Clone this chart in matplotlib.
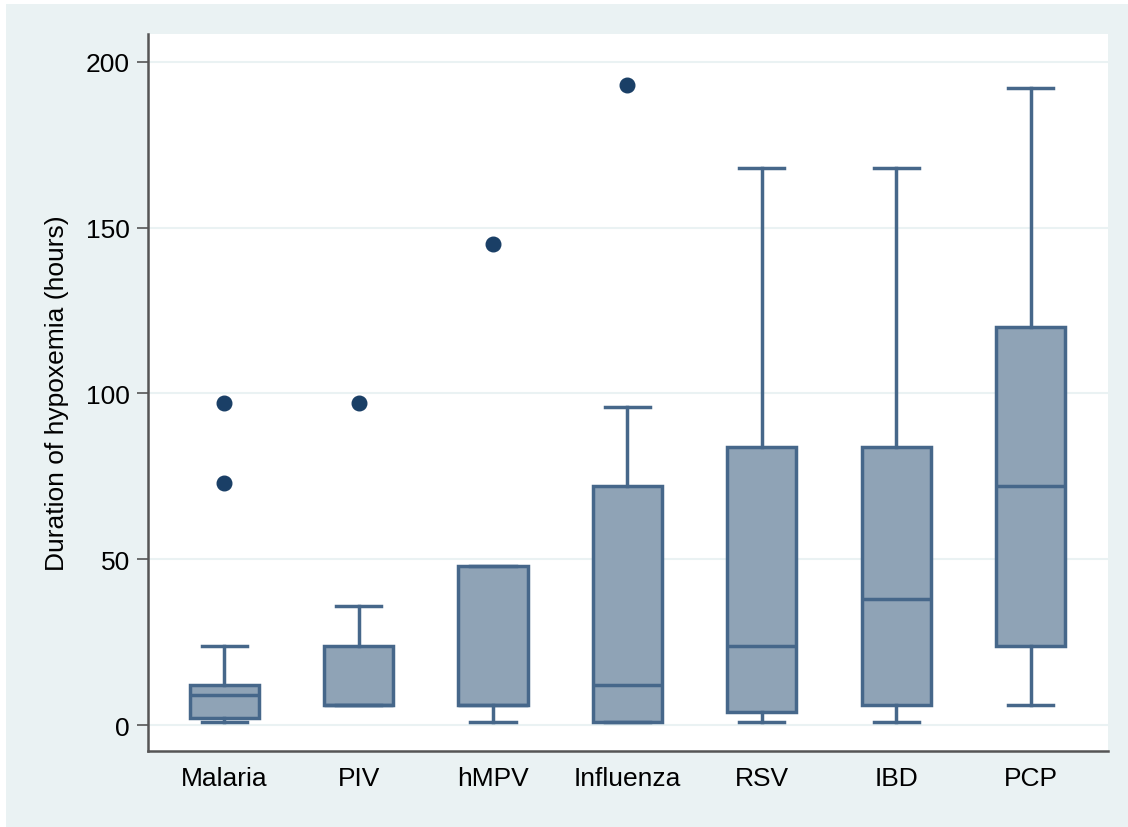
import matplotlib.pyplot as plt
from matplotlib.patches import Rectangle

plt.rcParams['font.family'] = ['Liberation Sans', 'DejaVu Sans']

# values (hours)
groups = ['Malaria', 'PIV', 'hMPV', 'Influenza', 'RSV', 'IBD', 'PCP']
whislo = [1, 6, 1, 1, 1, 1, 6]
q1 = [2, 6, 6, 1, 4, 6, 24]
med = [9, 6, 6, 12, 24, 38, 72]
q3 = [12, 24, 48, 72, 84, 84, 120]
whishi = [24, 36, 48, 96, 168, 168, 192]
fliers = [[97, 73], [97], [145], [193], [], [], []]

bg = '#eaf2f3'
edge = '#46678a'
fill = '#8fa3b6'
dot = '#1a3f66'

stats = []
for i in range(len(groups)):
    stats.append({'label': groups[i], 'whislo': whislo[i], 'q1': q1[i], 'med': med[i],
                  'q3': q3[i], 'whishi': whishi[i], 'fliers': fliers[i]})

fig = plt.figure(figsize=(11.28, 8.28), dpi=100, facecolor=bg)
# thin white margin along the top and left, as in the screenshot
fig.patches.append(Rectangle((0, 1 - 5 / 828), 1, 5 / 828, transform=fig.transFigure,
                             facecolor='white', edgecolor='none', zorder=-1))
fig.patches.append(Rectangle((0, 0), 6 / 1128, 1, transform=fig.transFigure,
                             facecolor='white', edgecolor='none', zorder=-1))

ax = fig.add_axes([148 / 1128, 76 / 828, 960 / 1128, 717 / 828])
ax.set_facecolor('white')

ax.bxp(stats, positions=range(1, 8), widths=0.515, patch_artist=True,
       boxprops=dict(facecolor=fill, edgecolor=edge, linewidth=2.5),
       medianprops=dict(color=edge, linewidth=2.5),
       whiskerprops=dict(color=edge, linewidth=2.5),
       capprops=dict(color=edge, linewidth=2.5),
       capwidths=0.336,
       flierprops=dict(marker='o', markerfacecolor=dot, markeredgecolor=dot, markersize=10.5))

ax.set_xlim(0.433, 7.575)
ax.set_ylim(-7.8, 208.4)
ax.set_yticks([0, 50, 100, 150, 200])
ax.grid(axis='y', color=bg, linewidth=1.5)
ax.set_axisbelow(True)

for s in ['top', 'right']:
    ax.spines[s].set_visible(False)
for s in ['left', 'bottom']:
    ax.spines[s].set_color('#555555')
    ax.spines[s].set_linewidth(1.8)

ax.tick_params(axis='y', length=8, width=1.2, color='#555555', labelsize=19, pad=5)
ax.tick_params(axis='x', length=0, labelsize=19, pad=11)
ax.set_ylabel('Duration of hypoxemia (hours)', fontsize=19, labelpad=12)

fig.savefig('out.png', dpi=100, facecolor=bg)
